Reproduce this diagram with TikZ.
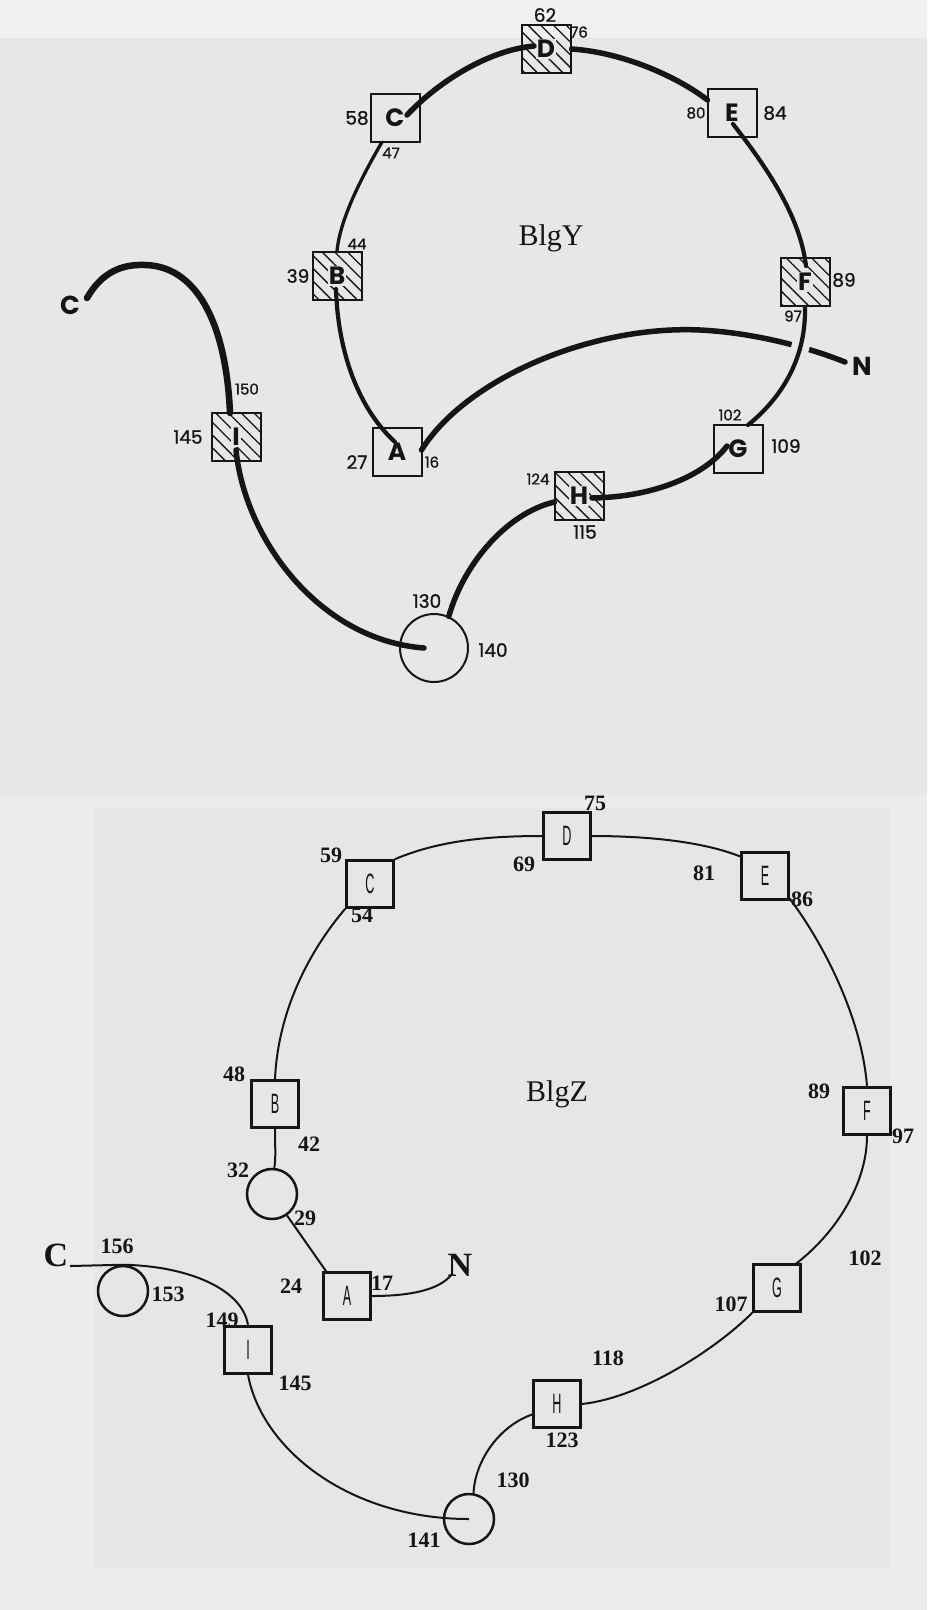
\documentclass[tikz,border=0pt]{standalone}
\usepackage{fontspec}
\setmainfont{Liberation Serif}
\newfontfamily\popfam{Poppins}
\newfontfamily\popnum{Poppins}[FakeBold=1]
\newfontfamily\lsansfam{Liberation Sans}
\usetikzlibrary{patterns.meta}
\definecolor{bgmain}{HTML}{E7E7E7}
\definecolor{bgtop}{HTML}{F1F1F1}
\definecolor{bgouter}{HTML}{ECECEC}
\definecolor{bginner}{HTML}{E6E6E6}
\definecolor{ink}{HTML}{151515}
\newcommand\lethalo[1]{{\fboxsep=1pt\colorbox{bgmain}{#1}}}
\newcommand\zlet[1]{\scalebox{0.45}[1]{#1}}
\tikzset{
  ybox/.style={draw=ink, line width=2pt, minimum width=49pt, minimum height=48pt, inner sep=0pt,
    font=\popfam\bfseries\fontsize{25}{25}\selectfont, text=ink},
  yhat/.style={ybox, postaction={pattern={Lines[angle=-45,distance=9pt,line width=1.3pt]}, pattern color=ink}},
  ycirc/.style={draw=ink, line width=2pt, circle, minimum size=68pt, inner sep=0pt},
  ynum/.style={font=\popnum\fontsize{18.5}{18.5}\selectfont, text=ink, inner sep=0pt},
  ysm/.style={font=\popnum\fontsize{15}{15}\selectfont, text=ink, inner sep=0pt},
  yend/.style={font=\popfam\bfseries\fontsize{26}{26}\selectfont, text=ink, inner sep=0pt},
  ythick/.style={draw=ink, line width=5.5pt, line cap=round},
  ymed/.style={draw=ink, line width=4.2pt, line cap=round},
  ythin/.style={draw=ink, line width=3.3pt, line cap=round},
  yterm/.style={draw=ink, line width=6.5pt, line cap=round},
  zbox/.style={draw=ink, line width=2.5pt, minimum width=47pt, minimum height=47pt, inner sep=0pt,
    font=\lsansfam\fontsize{28}{28}\selectfont, text=ink},
  zcirc/.style={draw=ink, line width=2.5pt, circle, minimum size=50pt, inner sep=0pt},
  znum/.style={font=\bfseries\fontsize{22}{22}\selectfont, text=ink, inner sep=0pt},
  zend/.style={font=\bfseries\fontsize{34}{34}\selectfont, text=ink, inner sep=0pt},
  zline/.style={draw=ink, line width=2pt},
  title/.style={font=\fontsize{30}{30}\selectfont, text=ink, inner sep=0pt}
}
\begin{document}
\begin{tikzpicture}[x=1pt,y=-1pt]
\useasboundingbox (0,0) rectangle (927,1610);
\fill[bgmain] (0,0) rectangle (927,1610);
\fill[bgtop] (0,0) rectangle (927,38);
\fill[bgouter] (0,795) rectangle (927,1610);
\fill[bginner] (95,808) rectangle (890,1568);

% ================= BlgY =================
\node[ybox] (Cy) at (395,118) {C};
\node[yhat] (Dy) at (546,49) {\lethalo{D}};
\node[ybox] (Ey) at (732,113) {E};
\node[yhat] (Fy) at (805,282) {\lethalo{F}};
\node[yhat] (By) at (337,276) {\lethalo{B}};
\node[ybox] (Ay) at (397,452) {A};
\node[ybox] (Gy) at (738,449) {G};
\node[yhat] (Hy) at (579,496) {\lethalo{H}};
\node[yhat] (Iy) at (236,437) {\lethalo{I}};
\node[ycirc] (Oy) at (434,648) {};
\node[title] (BlgY) at (551,238) {BlgY};
\node[yend] (CtY) at (70,305) {C};
\node[yend] (NtY) at (862,366) {N};

\coordinate (cyD) at (407,115);
\coordinate (dyC) at (534,46);
\coordinate (eyD) at (707.5,100);
\coordinate (eyF) at (733,124);
\coordinate (fyE) at (806,266);
\coordinate (gyF) at (748,425);
\coordinate (cyB) at (382,142);
\coordinate (byA) at (336,289);
\coordinate (ayB) at (395,442);
\coordinate (ayN) at (421.5,450);
\coordinate (nyA) at (845,362);
\coordinate (gyH) at (727,446);
\coordinate (hyG) at (592,498);
\coordinate (hyO) at (554.5,502);
\coordinate (iyO) at (236,450);
\coordinate (oyI) at (424,648);
\coordinate (ctY) at (87,298);
\coordinate (iyC) at (230,413);

\draw[ythick] (cyD) .. controls (440,80) and (490,50) .. (dyC);
\draw[ythick] (Dy.east) .. controls (620,52) and (675,75) .. (eyD);
\draw[ymed] (eyF) .. controls (765,165) and (800,215) .. (fyE);
\draw[ythin] (cyB) .. controls (360,180) and (340,220) .. (By.north);
\draw[ymed] (byA) .. controls (338,355) and (360,410) .. (ayB);
\draw[ythick] (ayN) .. controls (465,380) and (590,325) .. (700,330) .. controls (760,333) and (815,350) .. (nyA);
\begin{scope}
  \clip (770,325) rectangle (825,370);
  \draw[bgmain, line width=18pt] (Fy.south) .. controls (806,355) and (785,395) .. (gyF);
\end{scope}
\draw[ymed] (Fy.south) .. controls (806,355) and (785,395) .. (gyF);
\draw[ythick] (gyH) .. controls (705,475) and (655,497) .. (hyG);
\draw[ythick] (hyO) .. controls (510,512) and (465,560) .. (Oy.65);
\draw[ythick] (iyO) .. controls (245,540) and (320,640) .. (oyI);
\draw[yterm] (ctY) .. controls (102,272) and (122,264) .. (145,265) .. controls (195,266) and (226,320) .. (iyC);

\node[ynum] (l62) at (545,15) {62};
\node[ysm] (l76) at (579,32) {76};
\node[ynum] (l58) at (357,118) {58};
\node[ysm] (l47) at (391,153) {47};
\node[ysm] (l80) at (696,113) {80};
\node[ynum] (l84) at (775,113) {84};
\node[ysm] (l44) at (357,244) {44};
\node[ynum] (l39) at (298,276) {39};
\node[ynum] (l89) at (844,280) {89};
\node[ysm] (l97) at (793,316) {97};
\node[ysm] (l150) at (247,389) {150};
\node[ynum] (l145) at (188,437) {145};
\node[ynum] (l27) at (357,462) {27};
\node[ysm] (l16) at (432,462) {16};
\node[ysm] (l102) at (730,415) {102};
\node[ynum] (l109) at (786,446) {109};
\node[ysm] (l124) at (538,479) {124};
\node[ynum] (l115) at (585,532) {115};
\node[ynum] (l130) at (427,601) {130};
\node[ynum] (l140) at (493,650) {140};

% ================= BlgZ =================
\node[zbox] (Dz) at (567,836) {\zlet{D}};
\node[zbox] (Cz) at (370,884) {\zlet{C}};
\node[zbox] (Ez) at (765,876) {\zlet{E}};
\node[zbox] (Bz) at (275,1104) {\zlet{B}};
\node[zbox] (Fz) at (867,1111) {\zlet{F}};
\node[zbox] (Az) at (347,1296) {\zlet{A}};
\node[zbox] (Gz) at (777,1288) {\zlet{G}};
\node[zbox] (Hz) at (557,1404) {\zlet{H}};
\node[zbox] (Iz) at (248,1350) {\zlet{I}};
\node[zcirc] (O1z) at (272,1194) {};
\node[zcirc] (O2z) at (123,1291) {};
\node[zcirc] (O3z) at (469,1519) {};
\node[title] (BlgZ) at (557,1094) {BlgZ};
\node[zend] (CtZ) at (56,1255) {C};
\node[zend] (NtZ) at (460,1265) {N};

\coordinate (ctZ) at (70,1266);
\coordinate (ezD) at (741.5,857);
\coordinate (ezF) at (788.5,897);
\coordinate (gzF) at (795,1264.5);
\coordinate (hzO) at (533.5,1414);
\coordinate (azO) at (327,1272.5);
\coordinate (nzA) at (452,1274);

\draw[zline] (Cz.south west) .. controls (310,950) and (278,1010) .. (Bz.north);
\draw[zline] (Cz.north east) .. controls (440,840) and (490,836) .. (Dz.west);
\draw[zline] (Dz.east) .. controls (650,836) and (705,842) .. (ezD);
\draw[zline] (ezF) .. controls (825,945) and (862,1020) .. (Fz.north);
\draw[zline] (Fz.south) .. controls (867,1180) and (840,1230) .. (gzF);
\draw[zline] (Gz.south west) .. controls (715,1350) and (640,1398) .. (Hz.east);
\draw[zline] (hzO) .. controls (500,1425) and (475,1460) .. (O3z.80);
\draw[zline] (Iz.south) .. controls (262,1450) and (350,1519) .. (O3z.center);
\draw[zline] (O2z.north) .. controls (190,1266) and (243,1290) .. (Iz.north);
\draw[zline] (ctZ) -- (O2z.north);
\draw[zline] (Bz.south) .. controls (275,1145) and (276,1158) .. (O1z.85);
\draw[zline] (O1z.-55) -- (azO);
\draw[zline] (Az.east) .. controls (410,1296) and (440,1290) .. (nzA);

\node[znum] (m75) at (595,803) {75};
\node[znum] (m69) at (524,864) {69};
\node[znum] (m59) at (331,855) {59};
\node[znum] (m54) at (362,915) {54};
\node[znum] (m81) at (704,873) {81};
\node[znum] (m86) at (802,899) {86};
\node[znum] (m48) at (234,1074) {48};
\node[znum] (m42) at (309,1144) {42};
\node[znum] (m89) at (819,1091) {89};
\node[znum] (m97) at (903,1136) {97};
\node[znum] (m32) at (238,1170) {32};
\node[znum] (m29) at (305,1218) {29};
\node[znum] (m24) at (291,1286) {24};
\node[znum] (m17) at (382,1283) {17};
\node[znum] (m156) at (117,1246) {156};
\node[znum] (m153) at (168,1294) {153};
\node[znum] (m149) at (222,1320) {149};
\node[znum] (m145) at (295,1383) {145};
\node[znum] (m102) at (865,1258) {102};
\node[znum] (m107) at (731,1304) {107};
\node[znum] (m118) at (608,1358) {118};
\node[znum] (m123) at (562,1440) {123};
\node[znum] (m130) at (513,1480) {130};
\node[znum] (m141) at (424,1540) {141};
\end{tikzpicture}
\end{document}
